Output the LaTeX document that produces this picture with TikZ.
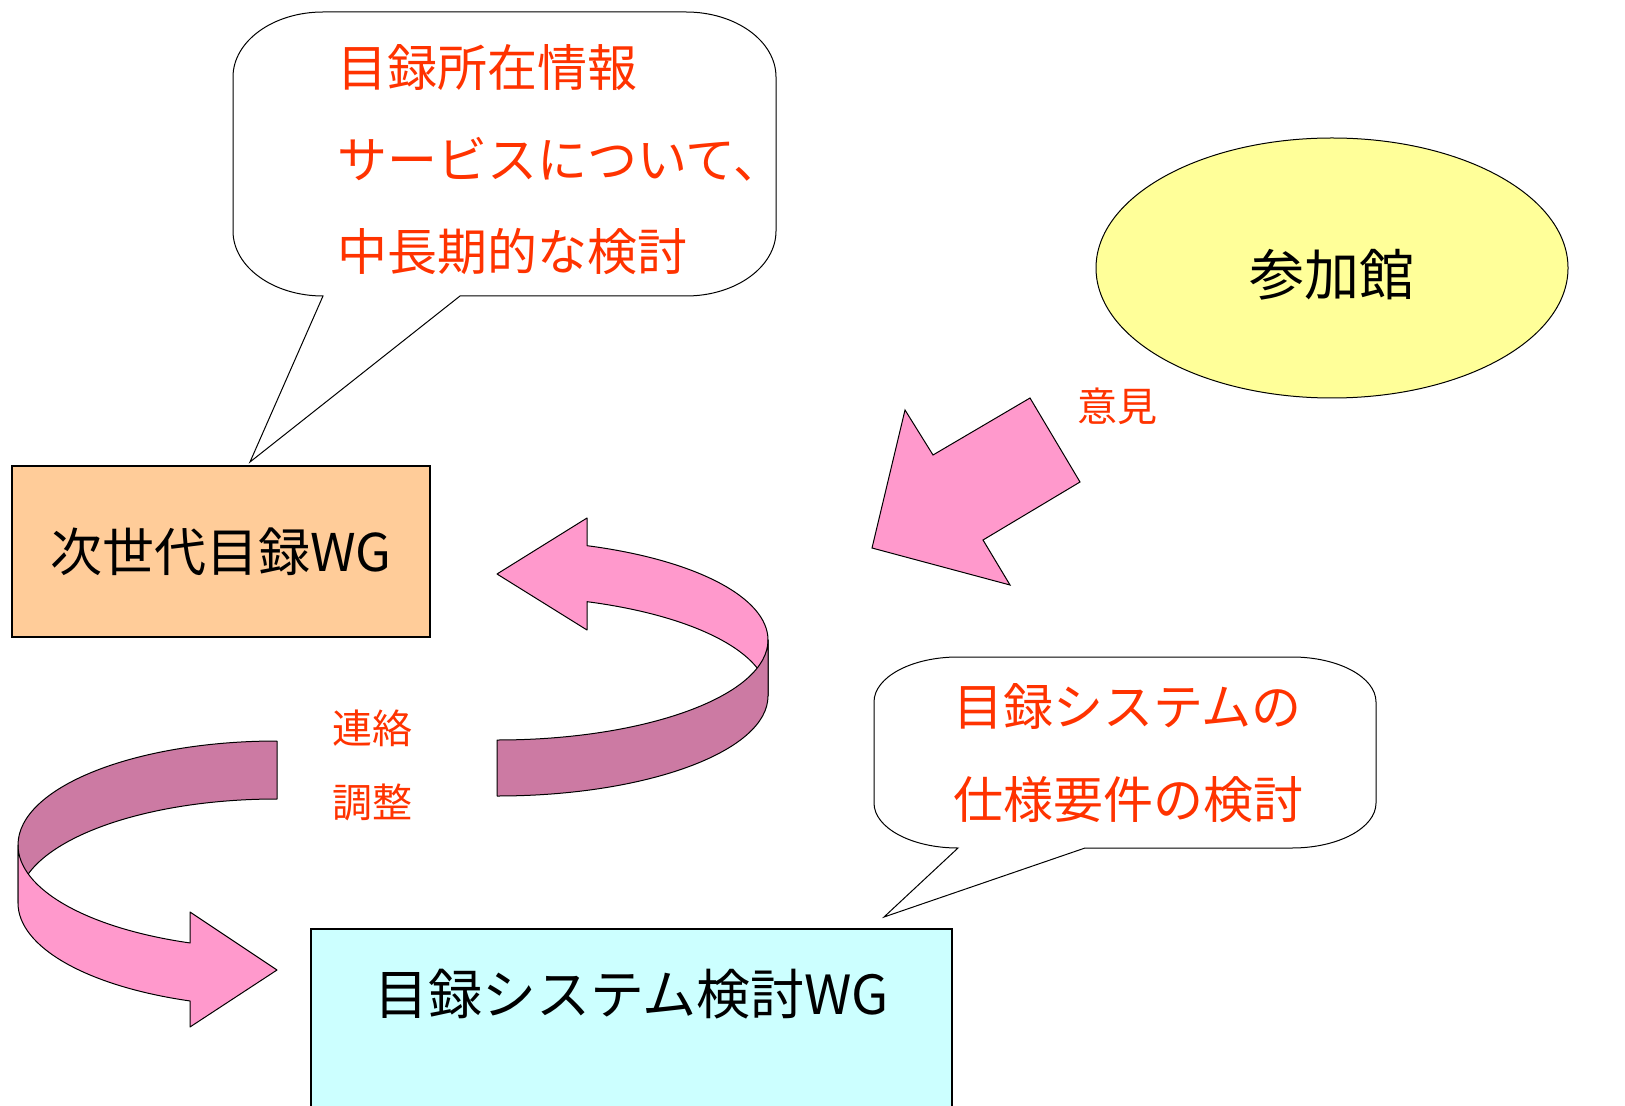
\documentclass[tikz,border=0pt]{standalone}
\usepackage{fontspec}
\setmainfont{Noto Sans CJK JP}
\usetikzlibrary{shapes.geometric}
\definecolor{redtxt}{HTML}{FF3300}
\definecolor{pinkL}{HTML}{FF99CC}
\definecolor{pinkD}{HTML}{CC7AA3}
\definecolor{peach}{HTML}{FFCC99}
\definecolor{cyanL}{HTML}{CCFFFF}
\definecolor{yellowL}{HTML}{FFFF99}
\begin{document}
\begin{tikzpicture}[x=0.5pt,y=-0.5pt,
  wgbox/.style={draw=black, line width=1pt, inner sep=0pt},
  callout/.style={draw=black, line width=0.5pt, fill=white},
  ribbonL/.style={draw=black, line width=0.5pt, fill=pinkL, line join=round},
  ribbonD/.style={draw=black, line width=0.5pt, fill=pinkD, line join=round},
  redlbl/.style={text=redtxt, inner sep=0pt}]
\useasboundingbox (0,0) rectangle (1625,1106);

% top callout
\draw[callout] (323,296) -- (250,462) -- (460,296) -- (686,296)
  arc[start angle=90, end angle=0, x radius=90, y radius=65] -- (776,77)
  arc[start angle=0, end angle=-90, x radius=90, y radius=65] -- (323,12)
  arc[start angle=-90, end angle=-180, x radius=90, y radius=65] -- (233,231)
  arc[start angle=180, end angle=90, x radius=90, y radius=65] -- cycle;
\node[redlbl, font=\fontsize{25}{46}\selectfont, align=left, anchor=west] (c1text) at (337,160) {目録所在情報\\サービスについて、\\中長期的な検討};

% lower callout
\draw[callout] (958,848) -- (884,917) -- (1085,848) -- (1292,848)
  arc[start angle=90, end angle=0, x radius=84, y radius=45] -- (1376,702)
  arc[start angle=0, end angle=-90, x radius=84, y radius=45] -- (958,657)
  arc[start angle=-90, end angle=-180, x radius=84, y radius=45] -- (874,803)
  arc[start angle=180, end angle=90, x radius=84, y radius=45] -- cycle;
\node[redlbl, font=\fontsize{25}{46.5}\selectfont, align=left, anchor=west] (c2text) at (953,753) {目録システムの\\仕様要件の検討};

% boxes
\node[wgbox, fill=peach, minimum width=209pt, minimum height=85.5pt] (wg1) at (221,551.5) {\fontsize{26}{30}\selectfont 次世代目録WG};
\node[wgbox, fill=cyanL, anchor=north west, minimum width=320.5pt, text height=42.5pt, text depth=68.5pt] (wg2) at (310,928) {\fontsize{27}{30}\selectfont 目録システム検討WG};

% ellipse
\node[ellipse, draw=black, line width=0.5pt, fill=yellowL, minimum width=236pt, minimum height=130pt, inner sep=0pt, text height=31pt, text depth=3pt] (member) at (1332,268) {\fontsize{27.5}{30}\selectfont 参加館};

% big arrow
\draw[ribbonL, line join=miter] (905,410) -- (933,455) -- (1030,398) -- (1080,482) -- (983,540) -- (1010,585) -- (872,548) -- cycle;
\node[redlbl, font=\fontsize{20}{24}\selectfont] (iken) at (1117,406) {意見};

% curved arrow 1 (upper right)
\draw[ribbonL] (587,518) -- (497,574) -- (587,630) -- ({497+271*cos(-70.6)},{696+100*sin(-70.6)})
  arc[start angle=-70.6, end angle=0, x radius=271, y radius=100] -- (768,640)
  arc[start angle=0, end angle=-70.6, x radius=271, y radius=100] -- cycle;
\draw[ribbonD] (768,640) arc[start angle=0, end angle=90, x radius=271, y radius=100] -- (497,796)
  arc[start angle=90, end angle=0, x radius=271, y radius=100] -- cycle;

% curved arrow 2 (lower left)
\draw[ribbonD] (277,741) arc[start angle=-90, end angle=-180, x radius=259, y radius=104] -- (18,903)
  arc[start angle=180, end angle=270, x radius=259, y radius=104] -- cycle;
\draw[ribbonL] (18,845) arc[start angle=180, end angle=109.6, x radius=259, y radius=104] -- (190,912) -- (277,970) -- (190,1027) -- ({277+259*cos(109.6)},{903+104*sin(109.6)})
  arc[start angle=109.6, end angle=180, x radius=259, y radius=104] -- cycle;

\node[redlbl, font=\fontsize{20}{37}\selectfont, align=center] (renraku) at (372,765) {連絡\\調整};
\end{tikzpicture}
\end{document}
